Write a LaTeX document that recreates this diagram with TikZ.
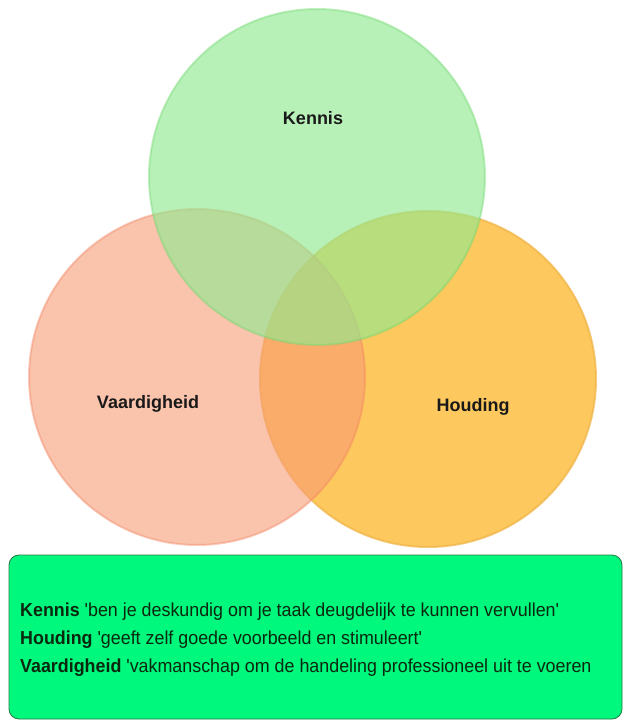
\documentclass[tikz,border=0pt]{standalone}
\usepackage{fontspec}
\setmainfont{Liberation Sans}
\newfontfamily\narrowfont[FakeStretch=0.95]{Liberation Sans}
\definecolor{cgreen}{RGB}{144,234,144}
\definecolor{cgreenrim}{RGB}{110,215,110}
\definecolor{cred}{RGB}{248,155,117}
\definecolor{credrim}{RGB}{240,130,95}
\definecolor{corange}{RGB}{253,200,94}
\definecolor{corangerim}{RGB}{240,180,70}
\definecolor{boxfill}{RGB}{0,248,124}
\definecolor{boxline}{RGB}{40,120,70}
\definecolor{txt}{RGB}{10,40,15}
\tikzset{
  vcircle/.style={circle, minimum size=336pt, inner sep=0pt},
  vlabel/.style={font=\fontsize{18}{20}\selectfont\bfseries, text=black!90},
  infobox/.style={rounded corners=10pt, fill=boxfill, draw=boxline, line width=0.8pt},
  infotext/.style={font=\narrowfont\fontsize{18.8}{28}\selectfont, text=txt, align=left, anchor=west, inner sep=0pt}
}
\begin{document}
\begin{tikzpicture}[x=1pt, y=-1pt]
\useasboundingbox (0,0) rectangle (628,722);
\fill[white] (0,0) rectangle (628,722);
% circles
\node[vcircle, fill=corange, draw=corangerim, draw opacity=0.7, line width=2pt] (houding) at (428,379) {};
\node[vcircle, fill=cred, fill opacity=0.6, draw=credrim, draw opacity=0.4, line width=2pt] (vaard) at (197,377) {};
\node[vcircle, fill=cgreen, fill opacity=0.64, draw=cgreenrim, draw opacity=0.4, line width=2pt] (kennis) at (317,177) {};
% labels
\node[vlabel] (lk) at (313,118) {Kennis};
\node[vlabel] (lv) at (148,404) {Vaardigheid};
\node[vlabel] (lh) at (473,407) {Houding};
% info box
\draw[infobox] (9,555) rectangle (622,719);
\node[infotext] (t1) at (20,612) {\textbf{Kennis} 'ben je deskundig om je taak deugdelijk te kunnen vervullen'};
\node[infotext] (t2) at (20,640) {\textbf{Houding} 'geeft zelf goede voorbeeld en stimuleert'};
\node[infotext] (t3) at (20,668) {\textbf{Vaardigheid} 'vakmanschap om de handeling professioneel uit te voeren};
\end{tikzpicture}
\end{document}
